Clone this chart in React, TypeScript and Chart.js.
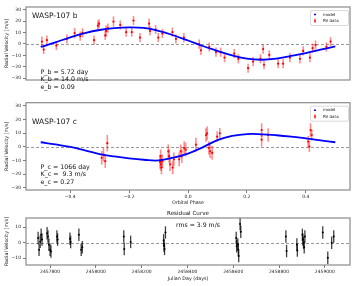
import React, { useEffect, useRef } from "react";
import { Chart, registerables } from "chart.js";
Chart.register(...registerables);

const FONT = "DejaVu Sans";

// ---------- Panel 1: WASP-107 b ----------
const phaseB = [-0.496, -0.49, -0.479, -0.447, -0.411, -0.385, -0.366, -0.358, -0.319, -0.306, -0.302, -0.281, -0.278, -0.272, -0.253, -0.23, -0.21, -0.191, -0.185, -0.163, -0.132, -0.129, -0.11, -0.101, -0.087, -0.053, -0.041, -0.014, 0.038, 0.044, 0.072, 0.095, 0.111, 0.124, 0.157, 0.171, 0.204, 0.221, 0.246, 0.255, 0.258, 0.276, 0.306, 0.323, 0.346, 0.38, 0.391, 0.414, 0.423, 0.433, 0.47, 0.484];
const rvB = [2.1, -4.9, 3.3, -1.4, 4.4, 9.5, 6.8, 9.8, 3.3, 16, 17.7, 7.5, 11.4, 13.8, 19.6, 16.6, 10.3, 10.3, 20.5, 5.6, 17.7, 11.4, 12.6, 5.6, 9.1, 10.3, 4.4, 5.6, -0.2, -5.6, -2.6, -7.2, -7.2, -11.9, -8.4, -13, -21.2, -15.4, -13, -4.5, -18.2, -9.6, -17.2, -17.2, -11.9, -13, -6.1, -11.9, -3.7, -0.9, -2.6, 2.1];
const errB = [4.5, 4, 4, 4, 4, 4.5, 4, 4, 4, 4.5, 4, 4, 5, 4, 4.5, 4, 4, 4, 4, 4, 4.5, 4, 4, 4, 4, 4, 4, 4, 4, 4, 4, 4, 4, 4, 4, 4, 4, 4, 4, 4, 4, 4, 4, 4, 4, 4, 4, 4, 4, 4, 4, 4];
const modelPhase = [-0.5, -0.45, -0.4, -0.35, -0.3, -0.25, -0.2, -0.15, -0.1, -0.05, 0.0, 0.05, 0.1, 0.15, 0.2, 0.25, 0.3, 0.35, 0.4, 0.45, 0.5];
const modelB = [-2.6, 1.4, 5.8, 9.5, 12.2, 13.8, 14.5, 14.0, 11.5, 7.6, 3.0, -1.8, -6.0, -10.0, -12.9, -13.8, -12.8, -10.5, -8.0, -5.0, -2.2];

// ---------- Panel 2: WASP-107 c ----------
const phaseC = [-0.293, -0.287, -0.281, -0.274, -0.095, -0.093, -0.092, -0.09, -0.087, -0.067, -0.064, -0.061, -0.052, -0.048, -0.03, -0.025, -0.021, -0.013, -0.008, 0.027, 0.061, 0.065, 0.071, 0.075, 0.082, 0.099, 0.108, 0.25, 0.25, 0.272, 0.408, 0.412, 0.416, 0.42];
const rvC = [-8, -5.6, -10.4, 2.7, -11, -6.8, -12.7, -15.1, -10.4, -3.2, -6.8, -12.7, -15.1, -9.1, -9.1, -3.2, -6.8, -0.8, -2, 1.6, 8.7, 9.9, -0.8, -3.2, -4.4, 7.5, 9.9, 12.3, 5.3, 8.7, 3.9, 0.3, 12.3, 8.7];
const errC = [5, 5, 5, 6, 5, 5, 5, 5, 5, 5, 5, 5, 5, 5, 5, 5, 5, 5, 5, 5, 5, 5, 5, 5, 5, 4, 4, 5, 5, 5, 4, 4, 5, 4];
const modelC = [3.4, 1.8, 0.0, -2.5, -5.2, -7.0, -8.4, -9.4, -9.9, -7.9, -4.9, -0.3, 5.0, 8.0, 9.4, 9.2, 8.5, 7.5, 6.2, 4.8, 3.4];

// ---------- Panel 3: residuals ----------
const jd = [2457748, 2457752, 2457757, 2457761, 2457765, 2457787, 2457791, 2457795, 2457800, 2457804, 2457830, 2457833, 2457887, 2457890, 2457926, 2457936, 2457941, 2458122, 2458124, 2458152, 2458296, 2458298, 2458300, 2458304, 2458613, 2458615, 2458620, 2458622, 2458624, 2458630, 2458633, 2458830, 2458833, 2458878, 2458880, 2458902, 2458904, 2458907, 2458910, 2458913, 2458991, 2459013, 2459030, 2459039];
const resid = [3, -4.5, 0.6, 5, 2, 6, 4, -1.3, -4.5, -5.7, 4, 2, 2.5, 0.5, 5, -4.5, -3, 4, -4, 0.5, 1.5, -2, -4, 6.5, 3, -2.3, -1.2, -4.4, -8.5, 12, 7, 4, -5.4, -1.2, -5, 5, 2, 0, -3, 4, 6.5, -9.6, 0, 4];
const residErr = [4, 4, 4, 4, 4, 4, 4, 4, 4, 4, 4, 4, 4, 4, 4, 4, 4, 4, 4, 4, 4, 4, 4, 4, 4, 4, 4, 4, 4, 4, 4, 4, 4, 4, 4, 4, 4, 4, 4, 4, 4, 4, 4, 4];

// ---------- ticks & labels ----------
const phaseTicks = [-0.4, -0.2, 0.0, 0.2, 0.4];
const rvTicks = [-30, -20, -10, 0, 10, 20, 30];
const residTicks = [-10, 0, 10];
const jdTicks = [2457800, 2458000, 2458200, 2458400, 2458600, 2458800, 2459000];
const paramsB = ["P_b = 5.72 day", "K_b = 14.0 m/s", "e_b = 0.09"];
const paramsC = ["P_c = 1066 day", "K_c =  9.3 m/s", "e_c = 0.27"];
const legendLabels = ["model", "RV data"];

const minus = (s: string) => s.replace("-", "\u2212");

type TextItem = { t: string; dx: number; dy: number; size: number; align?: CanvasTextAlign; center?: boolean };

function overlay(cfg: { texts: TextItem[]; legend: boolean }) {
  return {
    id: "overlay",
    beforeDatasetsDraw(chart: any) {
      const { ctx, chartArea: a, scales } = chart;
      ctx.save();
      ctx.strokeStyle = "#9a9a9a";
      ctx.lineWidth = 1;
      ctx.setLineDash([3, 2]);
      const y0 = Math.round(scales.y.getPixelForValue(0)) + 0.5;
      ctx.beginPath();
      ctx.moveTo(a.left, y0);
      ctx.lineTo(a.right, y0);
      ctx.stroke();
      ctx.restore();
      chart.data.datasets.forEach((ds: any) => {
        if (!ds.errs) return;
        ctx.save();
        ctx.strokeStyle = ds.errColor;
        ctx.lineWidth = ds.errWidth;
        ds.data.forEach((p: any, j: number) => {
          const x = scales.x.getPixelForValue(p.x);
          const y1 = scales.y.getPixelForValue(p.y - ds.errs[j]);
          const y2 = scales.y.getPixelForValue(p.y + ds.errs[j]);
          ctx.beginPath();
          ctx.moveTo(x, y1);
          ctx.lineTo(x, y2);
          ctx.stroke();
        });
        ctx.restore();
      });
    },
    afterDraw(chart: any) {
      const { ctx, chartArea: a } = chart;
      ctx.save();
      ctx.strokeStyle = "#8a8a8a";
      ctx.lineWidth = 1.2;
      ctx.strokeRect(a.left, a.top, a.right - a.left, a.bottom - a.top);
      ctx.fillStyle = "#111";
      ctx.textBaseline = "middle";
      cfg.texts.forEach((t) => {
        ctx.font = `${t.size}px ${FONT}`;
        ctx.textAlign = t.align || "left";
        const x = t.center ? (a.left + a.right) / 2 + t.dx : a.left + t.dx;
        ctx.fillText(t.t, x, a.top + t.dy);
      });
      if (cfg.legend) {
        const w = 38, h = 15;
        const bx = a.right - 2 - w, by = a.top + 3;
        ctx.fillStyle = "rgba(255,255,255,0.8)";
        ctx.strokeStyle = "#d0d0d0";
        ctx.lineWidth = 0.8;
        ctx.beginPath();
        ctx.roundRect(bx + 0.5, by + 0.5, w, h, 1.5);
        ctx.fill();
        ctx.stroke();
        // model entry
        ctx.strokeStyle = "blue";
        ctx.lineWidth = 1.5;
        ctx.beginPath();
        ctx.moveTo(bx + 4, by + 4.5);
        ctx.lineTo(bx + 6, by + 4.5);
        ctx.stroke();
        // RV data entry
        ctx.strokeStyle = "rgba(255,0,0,0.5)";
        ctx.lineWidth = 1.6;
        ctx.beginPath();
        ctx.moveTo(bx + 5, by + 8.5);
        ctx.lineTo(bx + 5, by + 13);
        ctx.stroke();
        ctx.fillStyle = "red";
        ctx.beginPath();
        ctx.arc(bx + 5, by + 10.8, 0.9, 0, Math.PI * 2);
        ctx.fill();
        ctx.fillStyle = "#111";
        ctx.font = `4px ${FONT}`;
        ctx.textAlign = "left";
        ctx.fillText(legendLabels[0], bx + 13, by + 4.5);
        ctx.fillText(legendLabels[1], bx + 13, by + 10.8);
      }
      ctx.restore();
    },
  };
}

function yAxis(min: number, max: number, ticks: number[]) {
  return {
    type: "linear",
    min,
    max,
    afterBuildTicks: (s: any) => {
      s.ticks = ticks.map((v) => ({ value: v }));
    },
    afterFit: (s: any) => {
      s.width = 26;
    },
    ticks: {
      font: { size: 4.5, family: FONT },
      color: "#222",
      padding: 2,
      autoSkip: false,
      callback: (v: any) => minus(String(v)),
    },
    grid: { drawOnChartArea: false, tickLength: 3, color: "#555", lineWidth: 0.8 },
    border: { display: false },
    title: {
      display: true,
      text: "Radial Velocity [m/s]",
      font: { size: 4.8, family: FONT },
      color: "#222",
      padding: { top: 4, bottom: 0 },
    },
  };
}

function xAxis(min: number, max: number, ticks: number[], h: number, label: string, fmt: (v: number) => string, padB: number, show = true) {
  return {
    type: "linear",
    display: show,
    min,
    max,
    afterBuildTicks: (s: any) => {
      s.ticks = ticks.map((v) => ({ value: v }));
    },
    afterFit: (s: any) => {
      s.height = h;
    },
    ticks: {
      font: { size: 4.5, family: FONT },
      color: "#222",
      padding: 1,
      autoSkip: false,
      maxRotation: 0,
      callback: (v: any) => fmt(Number(v)),
    },
    grid: { drawOnChartArea: false, tickLength: 3, color: "#555", lineWidth: 0.8 },
    border: { display: false },
    title: {
      display: true,
      text: label,
      font: { size: 4.8, family: FONT },
      color: "#222",
      padding: { top: 0, bottom: padB },
    },
  };
}

function pts(xs: number[], ys: number[]) {
  return xs.map((x, i) => ({ x, y: ys[i] }));
}

function Panel(props: { top: number; height: number; build: () => any }) {
  const ref = useRef<HTMLCanvasElement>(null);
  useEffect(() => {
    const chart = new Chart(ref.current as HTMLCanvasElement, props.build());
    return () => chart.destroy();
  }, []);
  return (
    <canvas
      ref={ref}
      width={357}
      height={props.height}
      style={{ position: "absolute", left: 0, top: props.top, width: 357, height: props.height }}
    />
  );
}

const common = {
  animation: false,
  responsive: false,
  maintainAspectRatio: false,
  events: [],
  plugins: { legend: { display: false }, tooltip: { enabled: false } },
};

function rvConfig(phase: number[], rv: number[], err: number[], model: number[], title: string, params: string[], titleDy: number, paramDy: number[], showX: boolean) {
  return {
    type: "scatter",
    data: {
      datasets: [
        {
          type: "line",
          data: pts(modelPhase, model),
          borderColor: "blue",
          borderWidth: 1.8,
          pointRadius: 0,
          tension: 0.4,
          fill: false,
          order: 0,
        },
        {
          data: pts(phase, rv),
          errs: err,
          errColor: "rgba(255,0,0,0.45)",
          errWidth: 1.6,
          backgroundColor: "red",
          borderWidth: 0,
          pointRadius: 1.1,
          order: 1,
        },
      ],
    },
    options: {
      ...common,
      layout: { padding: showX ? { left: 0, right: 7, top: 1, bottom: 0 } : { left: 0, right: 7, top: 7, bottom: 1 } },
      scales: {
        x: xAxis(-0.55, 0.55, phaseTicks, 18, "Orbital Phase", (v) => minus(v.toFixed(1)), 2, showX),
        y: yAxis(-31.5, 32.3, rvTicks),
      },
    },
    plugins: [
      overlay({
        legend: true,
        texts: [
          { t: title, dx: 6, dy: titleDy, size: 7.5 },
          { t: params[0], dx: 14.5, dy: paramDy[0], size: 6.3 },
          { t: params[1], dx: 14.5, dy: paramDy[1], size: 6.3 },
          { t: params[2], dx: 14.5, dy: paramDy[2], size: 6.3 },
        ],
      }),
    ],
  };
}

function residConfig() {
  return {
    type: "scatter",
    data: {
      datasets: [
        {
          data: pts(jd, resid),
          errs: residErr,
          errColor: "rgba(0,0,0,0.75)",
          errWidth: 1.3,
          backgroundColor: "black",
          borderWidth: 0,
          pointRadius: 1.0,
        },
      ],
    },
    options: {
      ...common,
      layout: { padding: { left: 0, right: 7, top: 10, bottom: 0 } },
      scales: {
        x: xAxis(2457695, 2459110, jdTicks, 21, "Julian Day (days)", (v) => String(v), 4.8),
        y: yAxis(-14.3, 15.8, residTicks),
      },
    },
    plugins: [
      overlay({
        legend: false,
        texts: [
          { t: "Residual Curve", dx: 0, dy: -4, size: 5.6, align: "center", center: true },
          { t: "rms = 3.9 m/s", dx: -12, dy: 7, size: 6.2, align: "left", center: true },
        ],
      }),
    ],
  };
}

export default function App() {
  return (
    <div style={{ position: "absolute", left: 0, top: 0, width: 357, height: 286, background: "white", overflow: "hidden" }}>
      <Panel top={0} height={99} build={() => rvConfig(phaseB, rvB, errB, modelB, "WASP-107 b", paramsB, 9, [65, 72.5, 80], false)} />
      <Panel top={98} height={110} build={() => rvConfig(phaseC, rvC, errC, modelC, "WASP-107 c", paramsC, 19.7, [64.3, 72, 79.3], true)} />
      <Panel top={208} height={78} build={residConfig} />
    </div>
  );
}
